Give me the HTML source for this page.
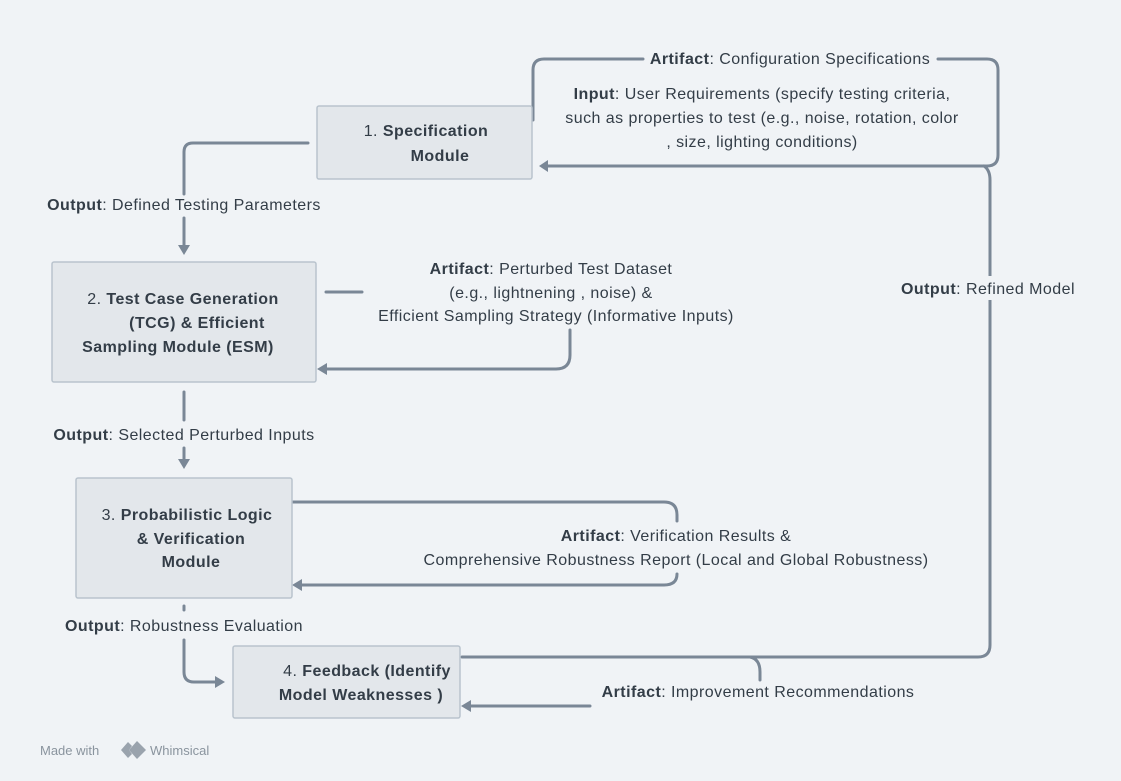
<!DOCTYPE html>
<html><head><meta charset="utf-8"><style>
html,body{margin:0;padding:0;background:#f0f3f6;}
svg{display:block}
text{font-family:"Liberation Sans",sans-serif;font-size:16px;letter-spacing:0.45px;fill:#333d47}
.b{font-weight:bold}
.box{fill:#e3e7eb;stroke:#b9c3cd;stroke-width:1.5}
.ln{fill:none;stroke:#7a8796;stroke-width:3;stroke-linecap:round;stroke-linejoin:round}
.ah{fill:#7a8796}
</style></head><body>
<svg width="1121" height="781" viewBox="0 0 1121 781">
<rect width="1121" height="781" fill="#f0f3f6"/>
<!-- connectors -->
<path class="ln" d="M308 143 H193 Q184 143 184 152 V194"/>
<path class="ln" d="M184 218 V246"/>
<polygon class="ah" points="178,245 190,245 184,255"/>
<path class="ln" d="M533 120 V70 Q533 59 544 59 H643"/>
<path class="ln" d="M938 59 H987 Q998 59 998 70 V155 Q998 166 987 166 H546"/>
<polygon class="ah" points="548,160 548,172 539,166"/>
<path class="ln" d="M984 166 Q990 170 990 180 V645 Q990 657 978 657 H462"/>
<path class="ln" d="M750 657 Q760 659 760 672 V680"/>
<path class="ln" d="M326 292 H362"/>
<path class="ln" d="M570 330 V355 Q570 369 556 369 H326"/>
<polygon class="ah" points="327,363 327,375 317,369"/>
<path class="ln" d="M184 392 V420"/>
<path class="ln" d="M184 448 V460"/>
<polygon class="ah" points="178,459 190,459 184,469"/>
<path class="ln" d="M292 502 H664 Q677 502 677 515 V521"/>
<path class="ln" d="M677 574 Q677 585 664 585 H302"/>
<polygon class="ah" points="302,579 302,591 292,585"/>
<path class="ln" d="M184 606 V610"/>
<path class="ln" d="M184 640 V672 Q184 682 194 682 H216"/>
<polygon class="ah" points="215,676 215,688 225,682"/>
<path class="ln" d="M590 706 H470"/>
<polygon class="ah" points="471,700 471,712 461,706"/>
<rect x="900" y="276" width="178" height="24" fill="#f0f3f6"/>
<!-- boxes -->
<rect class="box" x="317" y="106" width="215" height="73" rx="2"/>
<rect class="box" x="52" y="262" width="264" height="120" rx="2"/>
<rect class="box" x="76" y="478" width="216" height="120" rx="2"/>
<rect class="box" x="233" y="646" width="227" height="72" rx="2"/>
<!-- box text -->
<g text-anchor="middle">
<text x="426" y="136">1.  <tspan class="b">Specification</tspan></text>
<text x="440" y="161" class="b">Module</text>
<text x="183" y="304">2.  <tspan class="b">Test Case Generation</tspan></text>
<text x="197" y="328" class="b">(TCG) &amp; Efficient</text>
<text x="178" y="352" class="b">Sampling Module (ESM)</text>
<text x="187" y="520">3.  <tspan class="b">Probabilistic Logic</tspan></text>
<text x="191" y="544" class="b">&amp; Verification</text>
<text x="191" y="567" class="b">Module</text>
<text x="367" y="676">4.  <tspan class="b">Feedback (Identify</tspan></text>
<text x="361" y="700" class="b">Model Weaknesses )</text>
<!-- labels -->
<text x="790" y="64"><tspan class="b">Artifact</tspan>: Configuration Specifications</text>
<text x="762" y="99"><tspan class="b">Input</tspan>: User Requirements (specify testing criteria,</text>
<text x="762" y="123">such as properties to test (e.g., noise, rotation, color</text>
<text x="762" y="147">, size, lighting conditions)</text>
<text x="184" y="210"><tspan class="b">Output</tspan>: Defined Testing Parameters</text>
<text x="551" y="274"><tspan class="b">Artifact</tspan>: Perturbed Test Dataset</text>
<text x="551" y="298">(e.g., lightnening , noise) &amp;</text>
<text x="556" y="321">Efficient Sampling Strategy (Informative Inputs)</text>
<text x="988" y="294"><tspan class="b">Output</tspan>: Refined Model</text>
<text x="184" y="440"><tspan class="b">Output</tspan>: Selected Perturbed Inputs</text>
<text x="676" y="541"><tspan class="b">Artifact</tspan>: Verification Results &amp;</text>
<text x="676" y="565">Comprehensive Robustness Report (Local and Global Robustness)</text>
<text x="184" y="631"><tspan class="b">Output</tspan>: Robustness Evaluation</text>
<text x="758" y="697"><tspan class="b">Artifact</tspan>: Improvement Recommendations</text>
</g>
<!-- footer -->
<text x="40" y="755" style="font-size:13px;letter-spacing:0;fill:#8a949e">Made with</text>
<polygon points="128,742 121,750 128,758 132,754 129,750 132,746" fill="#9aa3ad"/>
<polygon points="137,741 129,750 137,759 146,750" fill="#9aa3ad"/>
<text x="150" y="755" style="font-size:13px;letter-spacing:0;fill:#8a949e">Whimsical</text>
</svg>
</body></html>
